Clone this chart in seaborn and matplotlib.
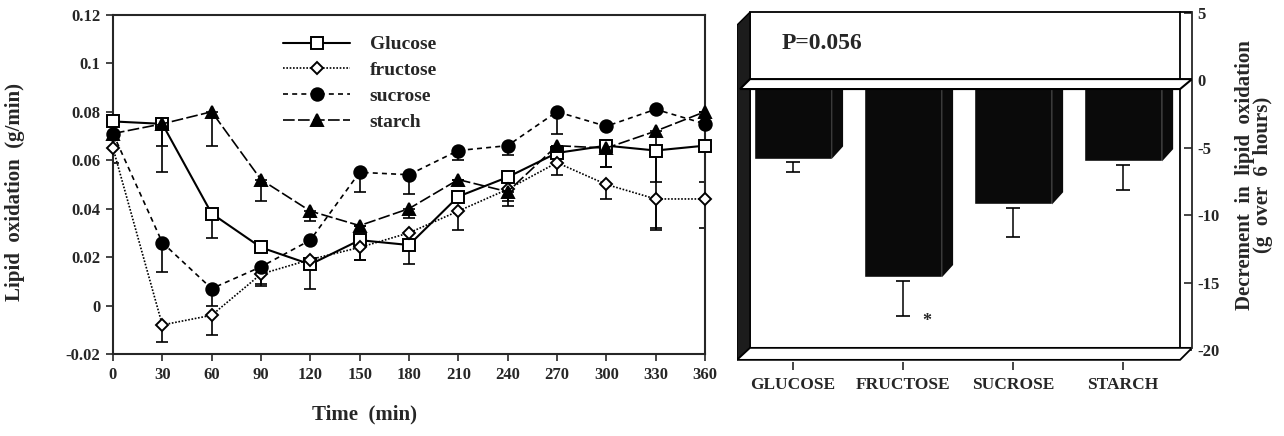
import matplotlib
matplotlib.use('Agg')
import matplotlib.pyplot as plt
from matplotlib.patches import Polygon, Rectangle
import numpy as np
import pandas as pd
import seaborn as sns

# left panel: lipid oxidation over time (g/min)
times = [0, 30, 60, 90, 120, 150, 180, 210, 240, 270, 300, 330, 360]
glucose = [0.076, 0.075, 0.038, 0.024, 0.017, 0.027, 0.025, 0.045, 0.053, 0.063, 0.066, 0.064, 0.066]
glucose_err = [0.0, 0.020, 0.010, 0.0, 0.010, 0.008, 0.008, 0.0, 0.005, 0.0, 0.009, 0.032, 0.015]
fructose = [0.065, -0.008, -0.004, 0.013, 0.019, 0.024, 0.030, 0.039, 0.048, 0.059, 0.050, 0.044, 0.044]
fructose_err = [0.006, 0.007, 0.008, 0.004, 0.0, 0.005, 0.0, 0.008, 0.005, 0.005, 0.006, 0.013, 0.012]
sucrose = [0.071, 0.026, 0.007, 0.016, 0.027, 0.055, 0.054, 0.064, 0.066, 0.080, 0.074, 0.081, 0.075]
sucrose_err = [0.0, 0.012, 0.007, 0.008, 0.0, 0.008, 0.008, 0.004, 0.004, 0.009, 0.0, 0.0, 0.0]
starch = [0.071, 0.075, 0.080, 0.052, 0.039, 0.033, 0.040, 0.052, 0.047, 0.066, 0.065, 0.072, 0.080]
starch_err = [0.0, 0.009, 0.014, 0.009, 0.004, 0.0, 0.004, 0.0, 0.006, 0.0, 0.008, 0.021, 0.0]

# right panel: decrement over 6 hours (g)
sugars = ['GLUCOSE', 'FRUCTOSE', 'SUCROSE', 'STARCH']
decrement = [-5.8, -14.6, -9.2, -6.0]
decrement_err = [1.0, 2.9, 2.4, 2.1]

sns.set_style("ticks")
plt.rcParams['font.family'] = ['Liberation Serif', 'DejaVu Serif']
plt.rcParams['font.weight'] = 'bold'

fig = plt.figure(figsize=(12.84, 4.36), dpi=100)
ax = fig.add_axes([0.088, 0.188, 0.461, 0.778])

series = [
    ('Glucose', glucose, glucose_err, 's', 9, 'white', '-', 1.5),
    ('fructose', fructose, fructose_err, 'D', 6, 'white', (0, (1, 1)), 1.2),
    ('sucrose', sucrose, sucrose_err, 'o', 9, 'black', (0, (3, 2.5)), 1.2),
    ('starch', starch, starch_err, '^', 9, 'black', (0, (7, 2)), 1.2),
]
for name, vals, errs, mk, ms, mfc, ls, lw in series:
    ax.errorbar(times, vals, yerr=[errs, np.zeros(len(errs))], fmt='none',
                ecolor='black', elinewidth=1.2, capsize=4.5, capthick=1.2, zorder=2)
    sns.lineplot(x=times, y=vals, ax=ax, color='black', marker=mk, markersize=ms,
                 markerfacecolor=mfc, markeredgecolor='black', markeredgewidth=1.4,
                 linestyle=ls, linewidth=lw, label=name, zorder=3, clip_on=False)

ax.set_xlim(0, 360)
ax.set_ylim(-0.02, 0.12)
ax.set_xticks(times)
ax.set_yticks([-0.02, 0, 0.02, 0.04, 0.06, 0.08, 0.1, 0.12])
ax.set_yticklabels(['-0.02', '0', '0.02', '0.04', '0.06', '0.08', '0.1', '0.12'])
ax.tick_params(axis='both', direction='out', length=5, width=1.2, labelsize=12, pad=4)
for s in ax.spines.values():
    s.set_linewidth(1.5)
ax.set_xlabel('Time  (min)', fontsize=15, fontweight='bold')
ax.xaxis.set_label_coords((365 - 113) / 592, -0.15)
ax.set_ylabel('Lipid  oxidation  (g/min)', fontsize=15, fontweight='bold')
ax.yaxis.set_label_coords(-0.148, 0.478)
leg = ax.legend(loc='upper left', bbox_to_anchor=(0.258, 0.99), frameon=False,
                handlelength=3.45, fontsize=14, labelspacing=0.42, handletextpad=1.0)
for t in leg.get_texts():
    t.set_fontweight('bold')

# right panel, pseudo 3D bars
ax2 = fig.add_axes([0.574, 0.1697, 0.3544, 0.8096])
half, ddx, ddy = 0.355, 0.1, 0.9
xl, xr, xo, xf = -0.391, 3.518, 3.627, -0.509

ax2.add_patch(Rectangle((xl, -19.85), xr - xl, 24.92, facecolor='white', edgecolor='black', lw=1.3, zorder=0.5))
ax2.add_patch(Polygon([(xf, 4.11), (xl, 5.07), (xl, -19.85), (xf, -20.74)],
                      closed=True, facecolor='#1c1c1c', edgecolor='black', lw=1, zorder=0.6))
ax2.plot([xr, xo], [5.07, 5.07], color='black', lw=1.3, zorder=0.6)
ax2.add_patch(Polygon([(xf, -20.74), (xr, -20.74), (xo, -19.85), (xl, -19.85)],
                      closed=True, facecolor='white', edgecolor='black', lw=1.3, zorder=0.7))

df = pd.DataFrame({'sugar': sugars, 'decrement': decrement})
sns.barplot(data=df, x='sugar', y='decrement', color='#0a0a0a', saturation=1,
            width=2 * half, errorbar=None, ax=ax2, zorder=1)
for i, v in enumerate(decrement):
    ax2.add_patch(Polygon([(i + half, v), (i + half + ddx, v + ddy),
                           (i + half + ddx, 0), (i + half, 0)],
                          closed=True, facecolor='#0a0a0a', edgecolor='none', zorder=1))
gap = 0.25
ax2.errorbar(range(len(sugars)), [v - gap for v in decrement],
             yerr=[[e - gap for e in decrement_err], [0] * len(sugars)],
             fmt='none', ecolor='black', elinewidth=1.1, capsize=5, capthick=1.2, zorder=2)

ax2.add_patch(Polygon([(-0.482, -0.64), (xr, -0.64), (xo, 0.1), (xl, 0.1)],
                      closed=True, facecolor='white', edgecolor='black', lw=1.5, zorder=3))
ax2.text(-0.1, 2.77, 'P=0.056', fontsize=17, fontweight='bold', ha='left', va='center')
ax2.text(1.22, -17.9, '*', fontsize=13, fontweight='bold', ha='center', va='center')

ax2.set_xlim(xf, xo)
ax2.set_ylim(-20.9, 5.3)
ax2.set_xlabel('')
ax2.set_ylabel('')
ax2.yaxis.tick_right()
ax2.set_yticks([5, 0, -5, -10, -15, -20])
ax2.set_yticklabels(['5', '0', '-5', '-10', '-15', '-20'])
ax2.tick_params(axis='y', direction='in', length=6, width=1.2, labelsize=12, pad=4)
ax2.tick_params(axis='x', direction='out', length=6, width=1.2, labelsize=12.5, pad=5)
for side in ['left', 'top', 'bottom']:
    ax2.spines[side].set_visible(False)
ax2.spines['right'].set_bounds(-19.85, 5.07)
ax2.spines['right'].set_linewidth(1.3)
for t in ax2.get_xticklabels() + ax2.get_yticklabels():
    t.set_fontweight('bold')

fig.text(1254 / 1284, 1 - 175 / 436, 'Decrement  in  lipid  oxidation\n(g  over  6  hours)',
         rotation=90, ha='center', va='center', fontsize=15, fontweight='bold',
         multialignment='center', linespacing=0.9)

fig.savefig('out.png', dpi=100)
